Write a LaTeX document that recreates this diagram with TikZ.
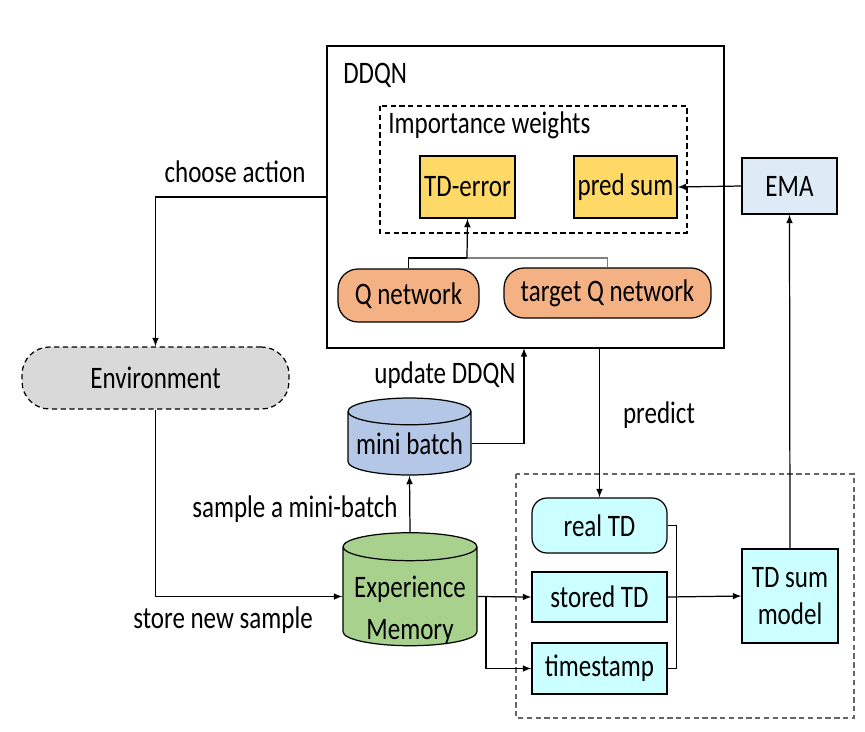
\documentclass[tikz,border=0pt]{standalone}
\usepackage{fontspec}
\setmainfont{Carlito}[FakeStretch=0.8]
\usepackage{tikz}
\usetikzlibrary{arrows}
\usetikzlibrary{shapes.geometric}
\definecolor{tdyellow}{HTML}{FFD966}
\definecolor{qorange}{HTML}{F4B183}
\definecolor{memgreen}{HTML}{A9D18E}
\definecolor{batchblue}{HTML}{B4C7E7}
\definecolor{emablue}{HTML}{DEEBF7}
\definecolor{tdcyan}{HTML}{CCFFFF}
\definecolor{envgray}{HTML}{D9D9D9}
\tikzset{
  box/.style={draw, line width=0.7pt, inner sep=0pt, align=center},
  conn/.style={line width=0.7pt},
  arr/.style={line width=0.7pt, -latex},
  lbl/.style={inner sep=0pt}
}

\begin{document}
\begin{tikzpicture}[x=0.02cm, y=-0.02cm, font=\fontsize{17.8}{20}\selectfont]
\useasboundingbox (0,0) rectangle (865,731);

%DDQN
\node[box, line width=0.9pt, minimum width=7.94cm, minimum height=6.04cm] (ddqn) at (525.5,197) {};
\node[lbl, anchor=west] (ddqnlbl) at (343,75) {DDQN};
\draw[line width=0.7pt, dash pattern=on 3pt off 2pt] (380,106) rectangle (687,233);
\node[lbl, anchor=west] (iwlbl) at (388,125) {Importance weights};
\node[box, fill=tdyellow, minimum width=1.9cm, minimum height=1.24cm] (tderr) at (467.5,187) {TD-error};
\node[box, fill=tdyellow, minimum width=2.06cm, minimum height=1.24cm] (pred) at (625.5,187) {pred sum};
\node[box, fill=qorange, rounded corners=0.4cm, minimum width=2.82cm, minimum height=1.06cm] (qnet) at (408.5,295.5) {Q network};
\node[box, fill=qorange, rounded corners=0.4cm, minimum width=4.14cm, minimum height=1.0cm] (tqnet) at (607.5,293) {target Q network};
\coordinate (join) at (467,258);
\draw[conn] (qnet.north) |- (join);
\draw[conn, gray] (join) -| (tqnet.north);
\draw[arr] (join) -- (tderr.south);

%EMA
\node[box, fill=emablue, minimum width=1.9cm, minimum height=1.12cm] (ema) at (789.5,186) {EMA};
\draw[arr] (ema.west) -- (pred.east);

%Environment
\node[box, fill=envgray, dash pattern=on 3pt off 2pt, rounded corners=0.55cm, minimum width=5.34cm, minimum height=1.24cm] (env) at (155.5,378) {Environment};
\draw[arr] (ddqn.west) -| (env.north);
\node[lbl] (chooselbl) at (235,172) {choose action};

%memory
\node[box, cylinder, shape border rotate=90, aspect=0.25, fill=memgreen, minimum width=2.68cm, minimum height=2.26cm] (mem) at (410,596.5) {\phantom{Experience}};
\node[lbl, align=center] (memtxt) at (410,610) {Experience\\[4pt]Memory};
\node[box, cylinder, shape border rotate=90, aspect=0.25, fill=batchblue, minimum width=2.46cm, minimum height=1.54cm] (mb) at (409.5,443.5) {mini batch};
\draw[arr] (env.south) |- (mem.west);
\node[lbl] (storelbl) at (223,620) {store new sample};
\draw[arr] (mem.north) -- (mb.south);
\node[lbl] (samplelbl) at (295,509) {sample a mini-batch};
\coordinate (upd) at (524,348);
\draw[arr] (mb.east) -| (upd);
\node[lbl] (updlbl) at (445,375) {update DDQN};

%TD sum
\draw[line width=0.7pt, gray!80!black, dash pattern=on 3pt off 2pt] (516,474) rectangle (854,718);
\node[box, fill=tdcyan, rounded corners=0.3cm, minimum width=2.7cm, minimum height=1.1cm] (realtd) at (599.5,525.5) {real TD};
\node[box, fill=tdcyan, minimum width=2.7cm, minimum height=1.0cm] (stored) at (599.5,597) {stored TD};
\node[box, fill=tdcyan, minimum width=2.7cm, minimum height=1.02cm] (ts) at (599.5,668.5) {timestamp};
\node[box, fill=tdcyan, minimum width=1.92cm, minimum height=1.88cm] (tdsum) at (790,596) {TD sum\\[1pt]model};
\draw[arr] (ddqn.south -| realtd.north) -- (realtd.north);
\node[lbl] (predlbl) at (659,415) {predict};
\draw[conn] (realtd.east) -- ++(9,0) |- (ts.east);
\draw[arr] (stored.east) -- (tdsum.west);
\draw[arr] (mem.east) -- (stored.west);
\coordinate (br) at (486,597);
\draw[arr] (br) |- (ts.west);
\draw[arr] (tdsum.north) -- (ema.south);

\end{tikzpicture}
\end{document}
